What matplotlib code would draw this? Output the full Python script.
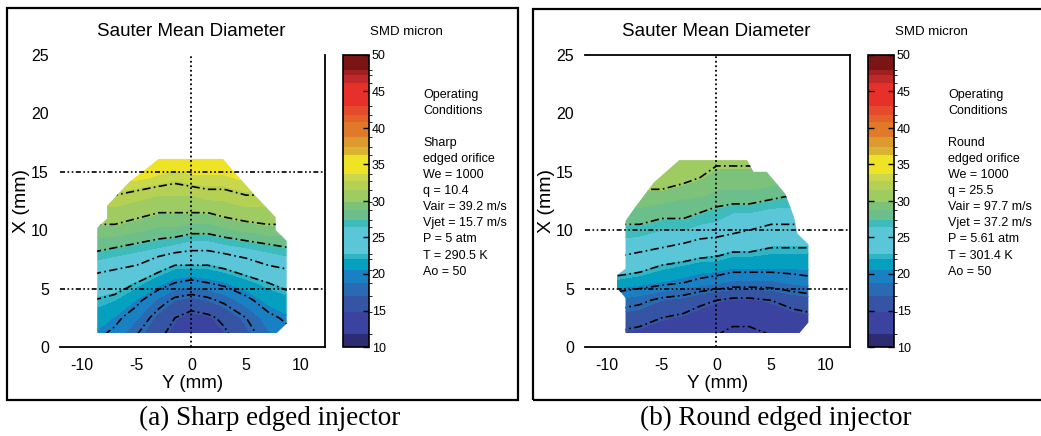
import matplotlib
matplotlib.use('Agg')
import matplotlib.pyplot as plt
import numpy as np
from matplotlib.colors import ListedColormap, BoundaryNorm
from matplotlib.patches import Polygon, Rectangle

plt.rcParams['font.family'] = ['Liberation Sans', 'DejaVu Sans']
plt.rcParams['axes.unicode_minus'] = False

# measurement grid (mm)
y_pos = [-9, -7, -5, -3, -1.5, 0, 1.5, 3, 5, 7, 9]
x_pos = [1, 2.5, 4, 5.5, 7, 8.5, 10, 11.5, 13, 14.5, 16.5]

# SMD (micron), rows = X, columns = Y
smd_sharp = [
    [20.5, 19.5, 17.5, 15.5, 14.0, 13.0, 13.5, 14.5, 16.5, 18.5, 19.5],
    [21.5, 20.5, 19.0, 16.5, 15.0, 14.0, 14.5, 15.5, 17.5, 19.5, 20.5],
    [22.5, 22.0, 20.5, 18.5, 17.0, 16.5, 17.0, 18.0, 19.5, 21.0, 21.5],
    [24.0, 23.5, 22.5, 21.0, 20.0, 19.5, 20.0, 20.5, 21.5, 22.5, 23.5],
    [26.0, 25.5, 25.0, 23.5, 22.5, 22.5, 22.5, 23.0, 24.0, 25.0, 25.5],
    [28.0, 27.5, 27.0, 26.5, 26.0, 25.5, 25.5, 26.0, 26.5, 27.0, 27.5],
    [29.5, 29.5, 29.0, 28.5, 28.5, 28.0, 28.0, 28.5, 29.0, 29.5, 29.5],
    [31.0, 31.0, 30.5, 30.0, 30.0, 30.0, 30.0, 30.5, 31.0, 31.0, 31.0],
    [32.5, 32.5, 32.0, 31.5, 31.5, 31.5, 32.0, 32.0, 32.5, 32.5, 32.5],
    [34.0, 34.0, 34.0, 33.5, 33.0, 33.5, 33.5, 33.5, 34.0, 34.0, 34.0],
    [35.5, 35.5, 35.5, 35.0, 35.0, 35.0, 35.0, 35.0, 35.5, 35.5, 35.5],
]
smd_round = [
    [14.5, 14.0, 13.5, 13.0, 12.5, 12.5, 12.0, 12.0, 12.5, 13.0, 13.5],
    [16.5, 16.0, 15.0, 14.5, 14.0, 13.5, 13.0, 13.0, 13.5, 14.0, 14.5],
    [18.5, 18.0, 17.0, 16.5, 15.5, 15.0, 14.5, 14.5, 15.0, 16.0, 16.5],
    [21.5, 21.0, 20.5, 20.0, 19.5, 19.0, 18.5, 18.5, 18.5, 19.0, 19.5],
    [24.0, 23.5, 22.5, 22.0, 21.5, 21.5, 21.0, 21.0, 21.0, 21.0, 21.0],
    [26.0, 25.5, 25.0, 24.5, 24.0, 23.5, 23.0, 23.0, 22.5, 22.5, 22.5],
    [27.0, 27.0, 26.5, 26.5, 26.0, 26.0, 25.5, 25.0, 24.5, 24.5, 24.5],
    [28.5, 28.5, 28.0, 28.0, 27.5, 27.0, 26.5, 26.5, 26.0, 26.0, 26.0],
    [29.5, 29.5, 29.5, 29.0, 29.0, 28.5, 28.5, 28.5, 28.0, 27.5, 27.5],
    [31.0, 31.0, 31.0, 30.5, 30.0, 29.5, 29.5, 29.5, 29.5, 29.0, 29.0],
    [31.5, 31.5, 31.5, 31.0, 31.0, 30.5, 30.5, 30.5, 30.5, 30.0, 30.0],
]

# measured region outlines (Y, X)
outline_sharp = [(-8.6, 1.2), (-8.6, 10.2), (-7.7, 11.0), (-7.7, 12.1), (-5.7, 14.1),
                 (-3.0, 16.1), (2.9, 16.1), (3.8, 15.1), (5.8, 13.0), (7.7, 11.1),
                 (7.7, 10.0), (8.7, 9.1), (8.7, 2.0), (7.8, 1.2)]
outline_round = [(-8.3, 1.2), (-8.3, 4.2), (-9.3, 5.3), (-9.3, 6.0), (-8.3, 6.7),
                 (-8.3, 10.8), (-7.4, 12.0), (-5.7, 14.1), (-3.4, 16.0), (2.8, 16.0),
                 (3.4, 15.0), (4.6, 15.0), (6.3, 13.1), (7.1, 11.1), (7.4, 9.7),
                 (8.4, 8.8), (8.4, 2.1), (7.6, 1.2)]

# colour bands of the legend
band_edges = [10, 11.8, 14.75, 17, 18.8, 20.6, 22, 22.7, 26.5, 27.4, 28.8, 29.9, 31.5,
              32.8, 33.7, 36.3, 37.4, 38.7, 40.8, 41.8, 43, 46.2, 47.3, 48, 50]
band_colors = ['#2d2b72', '#3a44a0', '#3654a4', '#2a6ab3', '#1a80c4', '#05a0c0', '#2fb5c5',
               '#5bc6d8', '#3dbcbb', '#6cbf8a', '#7dc27a', '#9ecb62', '#b5d052', '#c8d74b',
               '#eee325', '#d8b431', '#dc9a2f', '#e07a2a', '#e6602a', '#e54a2a', '#e8302a',
               '#c0282a', '#a02020', '#7b1515']
line_levels = [12.5, 15, 17.5, 20, 22.5, 25, 27.5, 30, 32.5, 35]
cbar_ticks = [10, 15, 20, 25, 30, 35, 40, 45, 50]

cond_sharp = ['Operating', 'Conditions', '', 'Sharp', 'edged orifice', 'We = 1000',
              'q = 10.4', 'Vair = 39.2 m/s', 'Vjet = 15.7 m/s', 'P = 5 atm',
              'T = 290.5 K', 'Ao = 50']
cond_round = ['Operating', 'Conditions', '', 'Round', 'edged orifice', 'We = 1000',
              'q = 25.5', 'Vair = 97.7 m/s', 'Vjet = 37.2 m/s', 'P = 5.61 atm',
              'T = 301.4 K', 'Ao = 50']

W, H = 1041, 436
fig = plt.figure(figsize=(W/100, H/100), dpi=100)
cmap = ListedColormap(band_colors)
norm = BoundaryNorm(band_edges, cmap.N)

def fx(px): return px / W
def fy(py): return 1 - py / H

panels = [
    dict(ox=0, z=smd_sharp, outline=outline_sharp, hl=[15, 5], spines=['bottom', 'right'],
         cond=cond_sharp, caption='(a) Sharp edged injector', cap_x=270,
         box=(7, 8, 518, 400)),
    dict(ox=525, z=smd_round, outline=outline_round, hl=[10, 5], spines=['bottom', 'right', 'top'],
         cond=cond_round, caption='(b) Round edged injector', cap_x=776,
         box=(533, 9, 1045, 400)),
]

YY, XX = np.meshgrid(y_pos, x_pos)
for p in panels:
    ox = p['ox']
    ax = fig.add_axes([fx(60 + ox), fy(347), fx(265), 292 / H])
    ax.set_xlim(-12, 12.2)
    ax.set_ylim(0, 25)
    Z = np.array(p['z'])
    patch = Polygon(p['outline'], closed=True, facecolor='none', edgecolor='none',
                    transform=ax.transData)
    ax.add_patch(patch)
    cf = ax.contourf(YY, XX, Z, levels=band_edges, cmap=cmap, norm=norm)
    cf.set_clip_path(patch)
    cs = ax.contour(YY, XX, Z, levels=line_levels, colors='k', linewidths=1.2,
                    linestyles=[(0, (5, 2, 1, 2))])
    cs.set_clip_path(patch)
    ax.axvline(0, color='k', lw=1.3, ls=(0, (1, 1.5)))
    for h in p['hl']:
        ax.axhline(h, color='k', lw=1.2, ls=(0, (3, 1.5, 1, 1.5, 1, 1.5)))
    for s in ['left', 'right', 'top', 'bottom']:
        ax.spines[s].set_visible(s in p['spines'])
        ax.spines[s].set_linewidth(1.3)
    ax.set_xticks([-10, -5, 0, 5, 10])
    ax.set_yticks([0, 5, 10, 15, 20, 25])
    ax.tick_params(length=0, pad=8, labelsize=11.5)
    ax.set_xlabel('Y (mm)', fontsize=13.5, labelpad=1)
    ax.set_ylabel('X (mm)', fontsize=14, labelpad=1)

    cax = fig.add_axes([fx(343 + ox), fy(347), fx(26), 292 / H])
    cb = fig.colorbar(cf, cax=cax, spacing='proportional', ticks=cbar_ticks)
    cb.outline.set_linewidth(1.2)
    cax.tick_params(direction='in', length=4, width=1, labelsize=9, pad=2,
                    left=True, right=True)

    fig.text(fx(191 + ox), fy(32), 'Sauter Mean Diameter', fontsize=13.5,
             ha='center', va='center')
    fig.text(fx(406 + ox), fy(32), 'SMD micron', fontsize=9.5, ha='center', va='center')
    fig.text(fx(423 + ox), fy(89), '\n'.join(p['cond']), fontsize=9, ha='left', va='top',
             linespacing=1.45)
    x0, y0, x1, y1 = p['box']
    fig.add_artist(Rectangle((fx(x0), fy(y1)), fx(x1 - x0), (y1 - y0) / H, fill=False,
                             edgecolor='k', lw=1.6, transform=fig.transFigure))
    fig.text(fx(p['cap_x']), fy(418), p['caption'], fontsize=19.5, family='Liberation Serif',
             ha='center', va='center')

fig.savefig('out.png', dpi=100)
